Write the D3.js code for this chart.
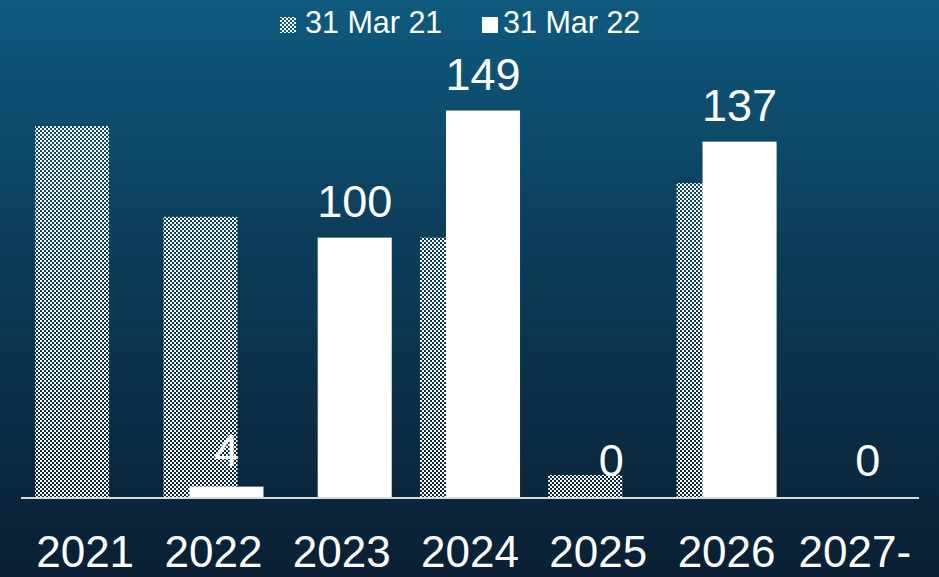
<!DOCTYPE html>
<html>
<head>
<meta charset="utf-8">
<script src="https://cdn.jsdelivr.net/npm/d3@7"></script>
<style>
  html, body { margin: 0; padding: 0; overflow: hidden; }
  body { width: 939px; height: 577px; }
  svg { display: block; font-family: "Liberation Sans", Arial, sans-serif; }
</style>
</head>
<body>
<div id="viz"></div>
<script>
// data
const categories = ["2021", "2022", "2023", "2024", "2025", "2026", "2027-"];
const seriesNames = ["31 Mar 21", "31 Mar 22"];
const mar21 = [143, 108, 0, 100, 8.5, 121, 0];
const mar22 = [null, 4, 100, 149, 0, 137, 0];

const width = 939, height = 577;
const base = 497;

const svg = d3.select("#viz").append("svg")
    .attr("width", width)
    .attr("height", height);

const defs = svg.append("defs");

// background gradient
const grad = defs.append("linearGradient")
    .attr("id", "bg")
    .attr("x1", 0).attr("y1", 0).attr("x2", 0).attr("y2", 1);
grad.append("stop").attr("offset", "0%").attr("stop-color", "#0f5a7f");
grad.append("stop").attr("offset", "45%").attr("stop-color", "#0c3b57");
grad.append("stop").attr("offset", "100%").attr("stop-color", "#0a1f33");

// checker pattern for 31 Mar 21
const pat = defs.append("pattern")
    .attr("id", "checker")
    .attr("patternUnits", "userSpaceOnUse")
    .attr("width", 4).attr("height", 4);
pat.append("rect").attr("x", 0).attr("y", 0).attr("width", 2).attr("height", 2).attr("fill", "#fff");
pat.append("rect").attr("x", 2).attr("y", 2).attr("width", 2).attr("height", 2).attr("fill", "#fff");

svg.append("rect")
    .attr("width", width).attr("height", height)
    .attr("fill", "url(#bg)");

const x = d3.scaleBand()
    .domain(categories)
    .range([21, 919])
    .paddingInner(0.22)
    .paddingOuter(0.11);

const y = d3.scaleLinear()
    .domain([0, 160])
    .range([base, 82]);

const bw = x.bandwidth() * 0.74;
const off = x.bandwidth() * 0.26;

// 31 Mar 21 bars (hatched)
svg.append("g").selectAll("rect")
    .data(categories.map((c, i) => ({ c, v: mar21[i] })).filter(d => d.v > 0))
    .join("rect")
    .attr("x", d => x(d.c))
    .attr("y", d => y(d.v))
    .attr("width", bw)
    .attr("height", d => base - y(d.v))
    .attr("fill", "url(#checker)");

// 31 Mar 22 bars (solid)
const d22 = categories.map((c, i) => ({ c, v: mar22[i] })).filter(d => d.v !== null);
svg.append("g").selectAll("rect")
    .data(d22.filter(d => d.v > 0))
    .join("rect")
    .attr("x", d => x(d.c) + off)
    .attr("y", d => y(d.v))
    .attr("width", bw)
    .attr("height", d => base - y(d.v))
    .attr("fill", "#fff");

// data labels
svg.append("g").selectAll("text")
    .data(d22)
    .join("text")
    .attr("x", d => x(d.c) + off + bw / 2)
    .attr("y", d => y(d.v) - 21)
    .attr("text-anchor", "middle")
    .attr("font-size", "45px")
    .attr("fill", "#fff")
    .text(d => d.v);

// axis line
svg.append("line")
    .attr("x1", 21).attr("x2", 919)
    .attr("y1", base + 1).attr("y2", base + 1)
    .attr("stroke", "#d9d9d9")
    .attr("stroke-width", 2);

// category labels
svg.append("g").selectAll("text")
    .data(categories)
    .join("text")
    .attr("x", d => x(d) + x.bandwidth() / 2)
    .attr("y", 567)
    .attr("text-anchor", "middle")
    .attr("font-size", "44px")
    .attr("fill", "#fff")
    .text(d => d);

// legend
const legend = svg.append("g");
const lx = [280, 482];
const tx = [305, 503];
seriesNames.forEach((name, i) => {
    legend.append("rect")
        .attr("x", lx[i]).attr("y", 17)
        .attr("width", 16).attr("height", 16)
        .attr("fill", i === 0 ? "url(#checker)" : "#fff");
    legend.append("text")
        .attr("x", tx[i]).attr("y", 33)
        .attr("font-size", "30.5px")
        .attr("fill", "#fff")
        .text(name);
});
</script>
</body>
</html>
